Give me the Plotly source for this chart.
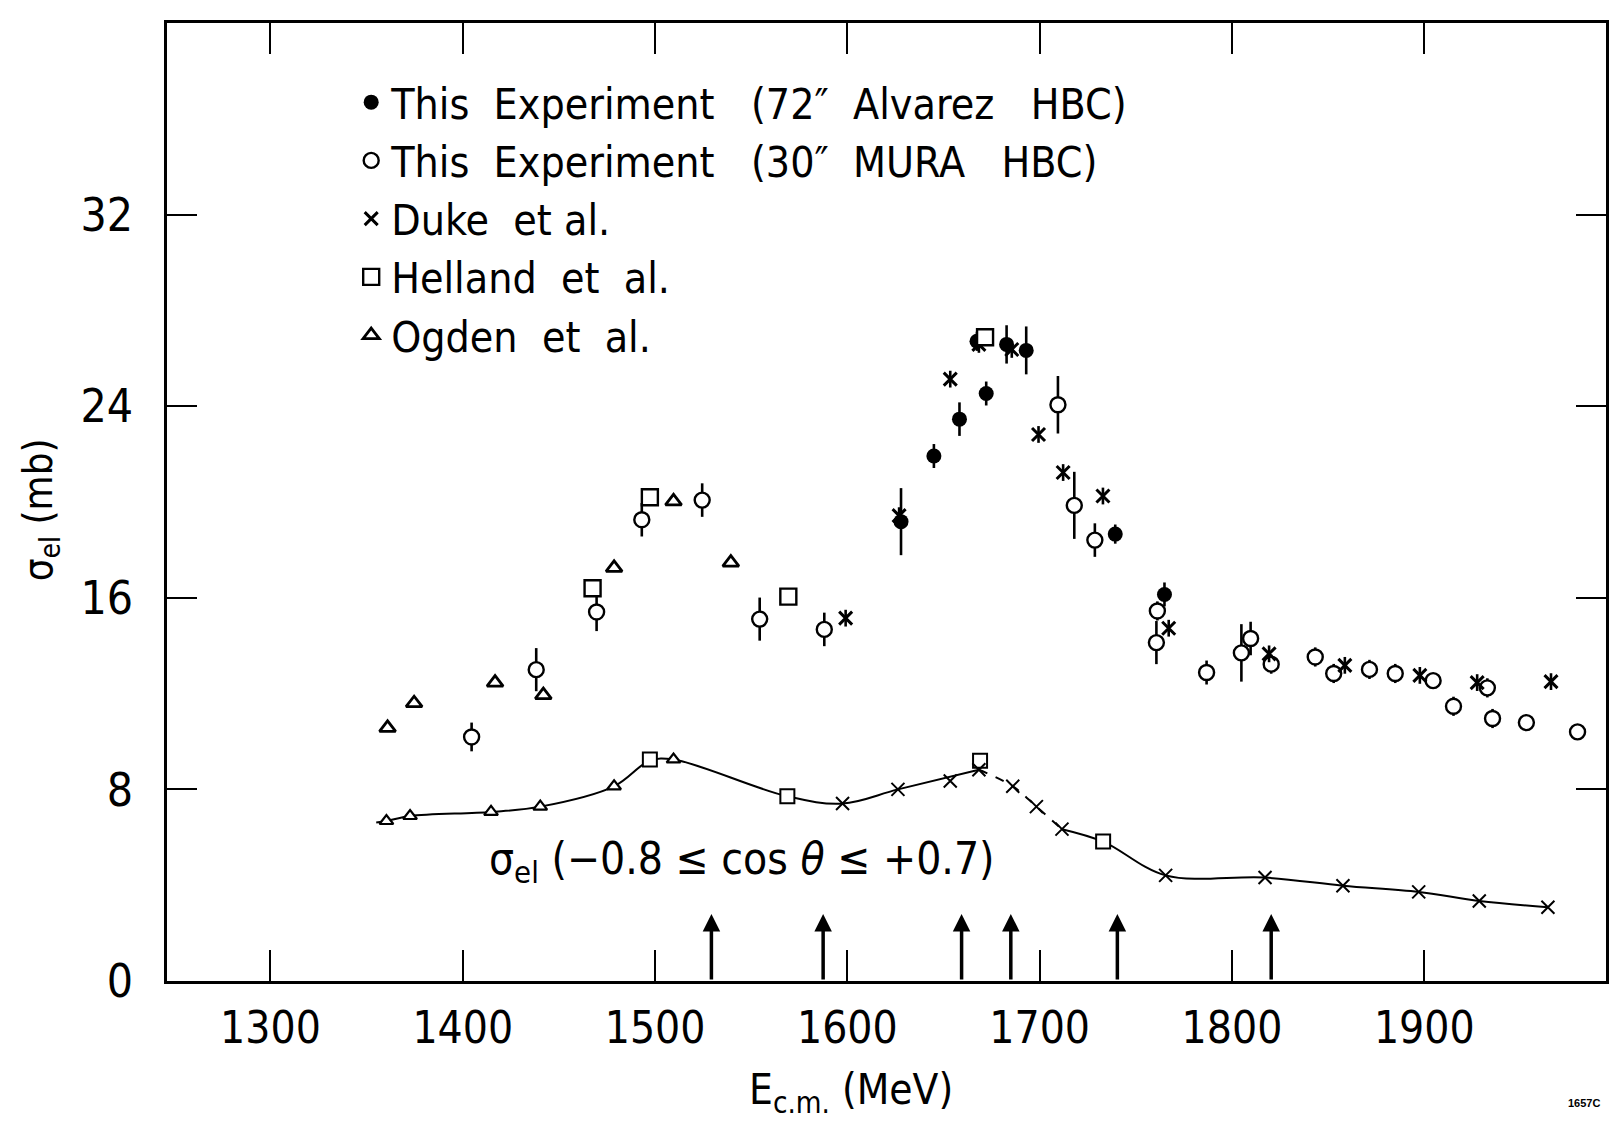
import plotly.graph_objects as go

FONT = "Liberation Sans Narrow, DejaVu Sans Condensed, Liberation Sans, sans-serif"

# ---- total elastic cross section (upper data) ----
# This experiment, 72" Alvarez HBC (filled circles)
alv_e = [1627.9, 1645.0, 1658.3, 1672.2, 1667.4, 1682.8, 1693.0, 1739.3, 1764.9]
alv_s = [19.18, 21.92, 23.46, 24.53, 26.71, 26.58, 26.33, 18.66, 16.14]
alv_err = [1.4, 0.5, 0.7, 0.5, 0.4, 0.8, 1.0, 0.4, 0.5]

# This experiment, 30" MURA HBC (open circles)
mura_e = [1404.6, 1438.2, 1469.6, 1493.1, 1524.5, 1554.4, 1588.0, 1709.5, 1718.0,
          1728.7, 1761.2, 1760.7, 1786.8, 1804.9, 1809.7, 1820.4, 1843.3, 1852.9,
          1871.5, 1884.9, 1904.6, 1915.2, 1932.8, 1935.5, 1953.1, 1979.7]
mura_s = [10.19, 13.0, 15.41, 19.26, 20.08, 15.11, 14.68, 24.06, 19.86,
          18.41, 15.45, 14.13, 12.88, 13.7, 14.3, 13.23, 13.53, 12.84,
          13.01, 12.84, 12.54, 11.47, 12.24, 10.96, 10.79, 10.4]
mura_err = [0.6, 0.9, 0.8, 0.7, 0.7, 0.9, 0.7, 1.2, 1.4,
            0.7, 0.4, 0.9, 0.5, 1.2, 0.7, 0.4, 0.4, 0.4,
            0.4, 0.4, 0.3, 0.4, 0.4, 0.4, 0.0, 0.2]

# Duke et al. (crosses)
duke_e = [1599.1, 1626.9, 1653.5, 1668.4, 1685.5, 1699.4, 1712.2, 1732.9, 1767.1,
          1819.3, 1858.7, 1897.7, 1927.5, 1965.9]
duke_s = [15.15, 19.43, 25.13, 26.58, 26.37, 22.82, 21.23, 20.25, 14.73,
          13.66, 13.18, 12.76, 12.46, 12.5]
duke_err = [0.35] * len(duke_e)

# Helland et al. (squares)
hel_e = [1467.5, 1497.3, 1569.3, 1671.6]
hel_s = [16.4, 20.2, 16.05, 26.88]

# Ogden et al. (triangles)
ogd_e = [1360.9, 1374.7, 1416.8, 1441.9, 1478.7, 1509.6, 1539.4]
ogd_s = [10.57, 11.6, 12.46, 11.94, 17.25, 20.03, 17.47]

# ---- restricted-angle elastic cross section (lower data) ----
low_tri_e = [1360.3, 1372.6, 1414.7, 1440.3, 1478.7, 1509.6]
low_tri_s = [6.68, 6.89, 7.06, 7.28, 8.13, 9.25]
low_sq_e = [1497.3, 1568.8, 1669.0, 1733.0]
low_sq_s = [9.25, 7.71, 9.2, 5.82]
low_x_e = [1597.5, 1626.3, 1653.5, 1668.4, 1686.0, 1698.3, 1711.6, 1765.5, 1817.2,
           1857.7, 1897.1, 1928.6, 1964.3]
low_x_s = [7.41, 8.0, 8.35, 8.82, 8.13, 7.28, 6.34, 4.41, 4.32, 3.98, 3.72, 3.34, 3.08]

# smooth guide curve through the restricted-angle points
curve_e = [1355.0, 1360.3, 1372.6, 1414.7, 1440.3, 1478.7, 1497.3, 1509.6, 1568.8,
           1597.5, 1626.3, 1668.4, 1686.0, 1698.3, 1711.6, 1733.0, 1765.5, 1817.2,
           1857.7, 1897.1, 1928.6, 1964.3]
curve_s = [6.62, 6.68, 6.89, 7.06, 7.28, 8.13, 9.2, 9.25, 7.71,
           7.41, 8.0, 8.82, 8.13, 7.28, 6.34, 5.82, 4.41, 4.32,
           3.98, 3.72, 3.34, 3.08]
dash_from, dash_to = 1668.4, 1711.6

# resonance positions marked by arrows
arrow_e = [1529.3, 1587.4, 1659.4, 1685.0, 1740.4, 1820.4]
arrow_top = 2.8

x_ticks = [1300, 1400, 1500, 1600, 1700, 1800, 1900]
y_ticks = [0, 8, 16, 24, 32]

NB = "\u00a0"
legend_names = [
    f"This{NB}{NB}Experiment{NB}{NB}{NB}(72\u2033{NB}{NB}Alvarez{NB}{NB}{NB}HBC)",
    f"This{NB}{NB}Experiment{NB}{NB}{NB}(30\u2033{NB}{NB}MURA{NB}{NB}{NB}HBC)",
    f"Duke{NB}{NB}et{NB}al.",
    f"Helland{NB}{NB}et{NB}{NB}al.",
    f"Ogden{NB}{NB}et{NB}{NB}al.",
]

fig = go.Figure()

# guide curve (solid / dashed / solid)
segs = [
    ([e for e in curve_e if e <= dash_from], "solid"),
    ([e for e in curve_e if dash_from <= e <= dash_to], "dash"),
    ([e for e in curve_e if e >= dash_to], "solid"),
]
for xs, dash in segs:
    ys = [curve_s[curve_e.index(e)] for e in xs]
    fig.add_trace(go.Scatter(x=xs, y=ys, mode="lines", showlegend=False,
                             line=dict(color="black", width=2, shape="spline", dash=dash)))

# lower markers
fig.add_trace(go.Scatter(x=low_tri_e, y=low_tri_s, mode="markers", showlegend=False,
                         marker=dict(symbol="triangle-up", size=12, color="white",
                                     line=dict(color="black", width=2.2))))
fig.add_trace(go.Scatter(x=low_sq_e, y=low_sq_s, mode="markers", showlegend=False,
                         marker=dict(symbol="square", size=14, color="white",
                                     line=dict(color="black", width=2))))
fig.add_trace(go.Scatter(x=low_x_e, y=low_x_s, mode="markers", showlegend=False,
                         marker=dict(symbol="x-thin-open", size=13, color="black",
                                     line=dict(color="black", width=2))))

err_style = dict(type="data", visible=True, color="black", thickness=2.6, width=0)

# upper series
fig.add_trace(go.Scatter(x=alv_e, y=alv_s, mode="markers", name=legend_names[0],
                         error_y=dict(array=alv_err, **err_style),
                         marker=dict(symbol="circle", size=15, color="black")))
fig.add_trace(go.Scatter(x=mura_e, y=mura_s, mode="markers", name=legend_names[1],
                         error_y=dict(array=mura_err, **err_style),
                         marker=dict(symbol="circle", size=15, color="white",
                                     line=dict(color="black", width=2.4))))
fig.add_trace(go.Scatter(x=duke_e, y=duke_s, mode="markers", name=legend_names[2],
                         error_y=dict(array=duke_err, **err_style),
                         marker=dict(symbol="x-thin-open", size=13, color="black",
                                     line=dict(color="black", width=3))))
fig.add_trace(go.Scatter(x=hel_e, y=hel_s, mode="markers", name=legend_names[3],
                         marker=dict(symbol="square", size=16, color="white",
                                     line=dict(color="black", width=2.4))))
fig.add_trace(go.Scatter(x=ogd_e, y=ogd_s, mode="markers", name=legend_names[4],
                         marker=dict(symbol="triangle-up", size=14, color="white",
                                     line=dict(color="black", width=2.8))))

# resonance arrows
for e in arrow_e:
    fig.add_annotation(x=e, y=arrow_top, ax=e, ay=0, xref="x", yref="y",
                       axref="x", ayref="y", text="", showarrow=True,
                       arrowhead=2, arrowsize=1.0, arrowwidth=3.5, arrowcolor="black")

# curve label
fig.add_annotation(x=1545, y=5.0, xref="x", yref="y", showarrow=False,
                   text="\u03c3<sub>el</sub> (\u22120.8 \u2264 cos <i>\u03b8</i> \u2264 +0.7)",
                   font=dict(family=FONT, size=44, color="black"))

# axis titles
fig.add_annotation(x=0.5, y=0, xref="paper", yref="paper", xanchor="center", yanchor="top",
                   xshift=852 - (167 + 1442 / 2), yshift=-82, showarrow=False,
                   text="E<sub>c.m.</sub> (MeV)", font=dict(family=FONT, size=42, color="black"))
fig.add_annotation(x=0, y=0.5, xref="paper", yref="paper", showarrow=False,
                   xshift=-154, yshift=(981 - 510) - 958.4 / 2, textangle=-90,
                   text="\u03c3<sub>el</sub> (mb)", font=dict(family=FONT, size=40, color="black"))
fig.add_annotation(x=1, y=0, xref="paper", yref="paper", xanchor="right", yanchor="top",
                   xshift=-4, yshift=-114, showarrow=False, text="<b>1657C</b>",
                   font=dict(family="Liberation Sans, sans-serif", size=11, color="black"))

fig.update_layout(
    width=1609, height=1123,
    margin=dict(l=167, r=0, t=23, b=142),
    paper_bgcolor="white", plot_bgcolor="white",
    font=dict(family=FONT, color="black"),
    showlegend=True,
    legend=dict(x=0.128, y=0.953, xanchor="left", yanchor="top",
                font=dict(family=FONT, size=42.5, color="black"),
                bgcolor="rgba(0,0,0,0)", itemwidth=30, tracegroupgap=0),
    xaxis=dict(range=[1246.2, 1994.5], tickvals=x_ticks, ticks="inside", ticklen=31,
               tickwidth=2.2, tickcolor="black", showline=True, linewidth=2.5,
               linecolor="black", mirror="ticks", showgrid=False, zeroline=False,
               tickfont=dict(family=FONT, size=44), ticklabelstandoff=6),
    yaxis=dict(range=[0, 40], tickvals=y_ticks, ticks="inside", ticklen=30,
               tickwidth=2.2, tickcolor="black", showline=True, linewidth=2.5,
               linecolor="black", mirror="ticks", showgrid=False, zeroline=False,
               tickfont=dict(family=FONT, size=46), ticklabelstandoff=22),
)

fig.write_html("out.html")
